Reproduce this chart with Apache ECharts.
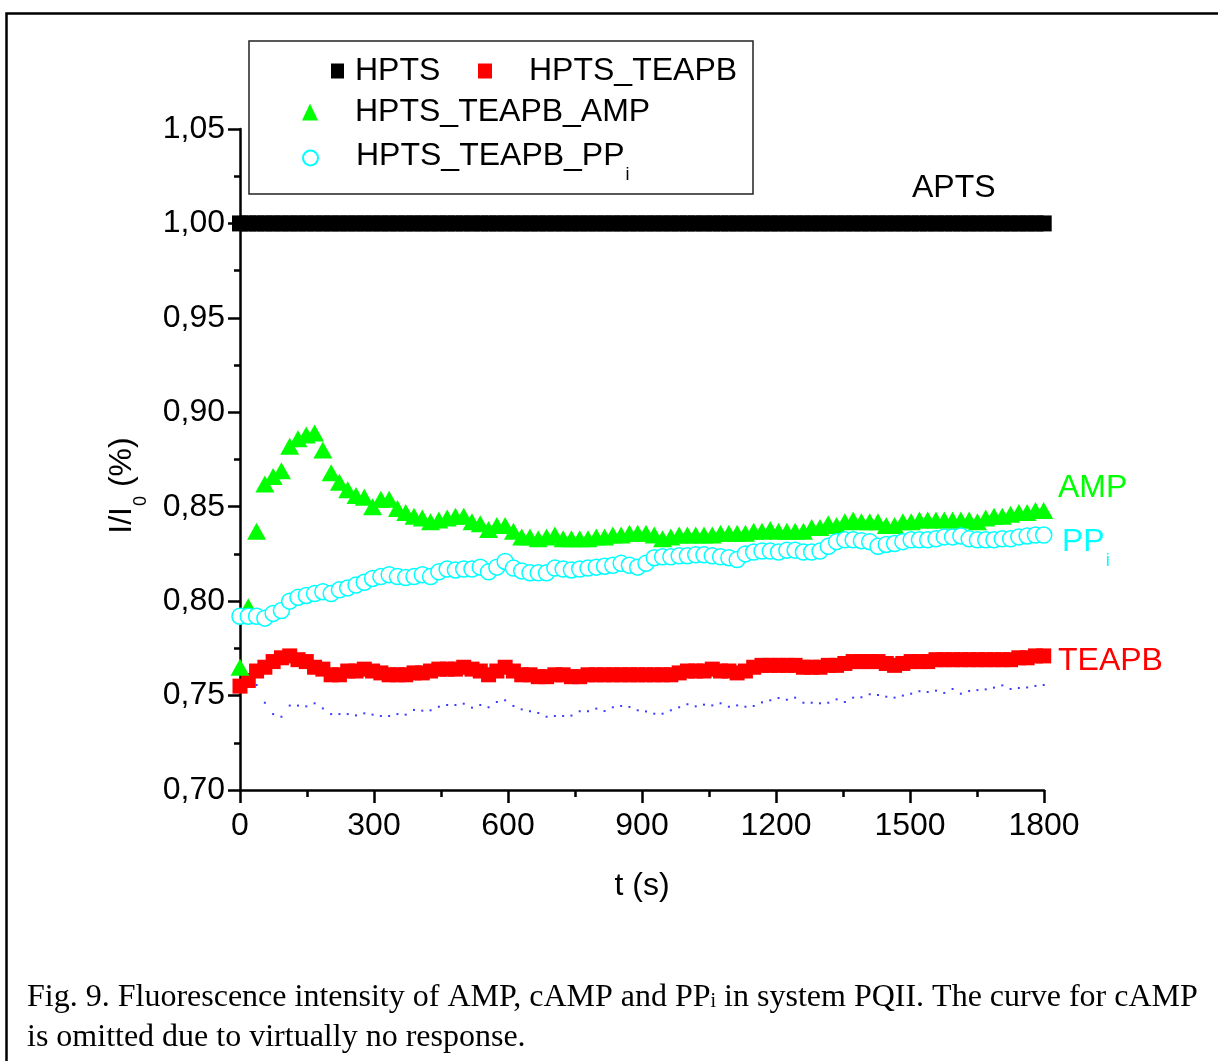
<!DOCTYPE html>
<html>
<head>
<meta charset="utf-8">
<title>Fluorescence intensity in system PQII</title>
<script src="https://cdn.jsdelivr.net/npm/echarts@6/dist/echarts.min.js"></script>
<style>
  html, body { margin: 0; padding: 0; background: #fff; }
  #chart { width: 1218px; height: 1061px; }
</style>
</head>
<body>
<div id="chart"></div>
<script>
// Sampling interval of the fluorescence readings (s)
const SAMPLE_INTERVAL = 18.55;

// I/I0 readings, one per sample
const hpts = [
  1.00, 1.00, 1.00, 1.00, 1.00, 1.00, 1.00, 1.00, 1.00, 1.00,
  1.00, 1.00, 1.00, 1.00, 1.00, 1.00, 1.00, 1.00, 1.00, 1.00,
  1.00, 1.00, 1.00, 1.00, 1.00, 1.00, 1.00, 1.00, 1.00, 1.00,
  1.00, 1.00, 1.00, 1.00, 1.00, 1.00, 1.00, 1.00, 1.00, 1.00,
  1.00, 1.00, 1.00, 1.00, 1.00, 1.00, 1.00, 1.00, 1.00, 1.00,
  1.00, 1.00, 1.00, 1.00, 1.00, 1.00, 1.00, 1.00, 1.00, 1.00,
  1.00, 1.00, 1.00, 1.00, 1.00, 1.00, 1.00, 1.00, 1.00, 1.00,
  1.00, 1.00, 1.00, 1.00, 1.00, 1.00, 1.00, 1.00, 1.00, 1.00,
  1.00, 1.00, 1.00, 1.00, 1.00, 1.00, 1.00, 1.00, 1.00, 1.00,
  1.00, 1.00, 1.00, 1.00, 1.00, 1.00, 1.00, 1.00
];

const hptsTeapb = [
  0.755, 0.758, 0.763, 0.765, 0.768, 0.770, 0.771, 0.769, 0.768, 0.765,
  0.764, 0.761, 0.761, 0.763, 0.763, 0.764, 0.763, 0.762, 0.761, 0.761,
  0.761, 0.762, 0.762, 0.763, 0.764, 0.764, 0.764, 0.765, 0.764, 0.763,
  0.761, 0.763, 0.765, 0.763, 0.761, 0.761, 0.760, 0.760, 0.761, 0.761,
  0.760, 0.760, 0.761, 0.761, 0.761, 0.761, 0.761, 0.761, 0.761, 0.761,
  0.761, 0.761, 0.761, 0.762, 0.763, 0.763, 0.763, 0.764, 0.763, 0.763,
  0.762, 0.763, 0.765, 0.766, 0.766, 0.766, 0.766, 0.766, 0.765, 0.765,
  0.765, 0.766, 0.766, 0.767, 0.768, 0.768, 0.768, 0.768, 0.767, 0.766,
  0.767, 0.768, 0.768, 0.768, 0.769, 0.769, 0.769, 0.769, 0.769, 0.769,
  0.769, 0.769, 0.769, 0.769, 0.770, 0.770, 0.771, 0.771
];

const hptsTeapbAmp = [
  0.765, 0.797, 0.837, 0.862, 0.866, 0.869, 0.882, 0.886, 0.888, 0.889,
  0.880, 0.868, 0.863, 0.859, 0.856, 0.855, 0.850, 0.854, 0.854, 0.849,
  0.847, 0.845, 0.844, 0.842, 0.843, 0.844, 0.845, 0.845, 0.842, 0.841,
  0.838, 0.840, 0.840, 0.837, 0.834, 0.834, 0.833, 0.834, 0.835, 0.833,
  0.833, 0.833, 0.833, 0.834, 0.834, 0.835, 0.835, 0.836, 0.836, 0.836,
  0.835, 0.833, 0.834, 0.835, 0.835, 0.835, 0.835, 0.835, 0.836, 0.836,
  0.836, 0.836, 0.837, 0.837, 0.838, 0.837, 0.837, 0.837, 0.837, 0.839,
  0.839, 0.841, 0.840, 0.842, 0.843, 0.842, 0.842, 0.842, 0.840, 0.840,
  0.842, 0.842, 0.843, 0.843, 0.843, 0.843, 0.843, 0.843, 0.843, 0.842,
  0.844, 0.845, 0.845, 0.846, 0.847, 0.847, 0.848, 0.848
];

const hptsTeapbPpi = [
  0.792, 0.792, 0.792, 0.791, 0.7935, 0.795, 0.800, 0.802, 0.803, 0.804,
  0.805, 0.804, 0.806, 0.807, 0.8085, 0.810, 0.812, 0.813, 0.814, 0.813,
  0.8125, 0.813, 0.814, 0.813, 0.8155, 0.817, 0.8165, 0.817, 0.817, 0.818,
  0.8155, 0.818, 0.821, 0.8175, 0.816, 0.815, 0.815, 0.815, 0.8175, 0.817,
  0.8165, 0.817, 0.8175, 0.818, 0.8185, 0.819, 0.820, 0.819, 0.818, 0.820,
  0.823, 0.8235, 0.8235, 0.824, 0.824, 0.8245, 0.8245, 0.824, 0.8235, 0.823,
  0.822, 0.825, 0.826, 0.8265, 0.8265, 0.826, 0.827, 0.827, 0.826, 0.826,
  0.8265, 0.829, 0.8315, 0.8325, 0.8325, 0.832, 0.8315, 0.829, 0.830, 0.8305,
  0.8315, 0.8325, 0.8325, 0.8325, 0.833, 0.834, 0.834, 0.8345, 0.833, 0.8325,
  0.8325, 0.8325, 0.833, 0.833, 0.834, 0.8345, 0.835, 0.835
];

// Unlabelled dotted trace below TEAPB
const dottedTrace = [
  0.757, 0.758, 0.7556, 0.7462, 0.7402, 0.7388, 0.7447, 0.7447, 0.7443, 0.7459,
  0.7432, 0.7402, 0.7402, 0.7402, 0.7395, 0.7406, 0.7399, 0.7392, 0.7392, 0.7402,
  0.7399, 0.7424, 0.7420, 0.7422, 0.7441, 0.7450, 0.7450, 0.7457, 0.7436, 0.7450,
  0.7438, 0.7466, 0.7475, 0.7445, 0.7427, 0.7417, 0.7408, 0.7388, 0.7392, 0.7392,
  0.7394, 0.7417, 0.7417, 0.7431, 0.7418, 0.7438, 0.7445, 0.7440, 0.7422, 0.7416,
  0.7404, 0.7404, 0.7422, 0.7438, 0.7454, 0.7443, 0.7452, 0.7448, 0.7459, 0.7441,
  0.7448, 0.7441, 0.7445, 0.7464, 0.7475, 0.7487, 0.7478, 0.7489, 0.7462, 0.7462,
  0.7459, 0.7462, 0.7480, 0.7466, 0.7489, 0.7491, 0.7507, 0.7503, 0.7494, 0.7489,
  0.7500, 0.7510, 0.7523, 0.7519, 0.7526, 0.7514, 0.7535, 0.7510, 0.7524, 0.7529,
  0.7533, 0.7542, 0.7554, 0.7535, 0.7540, 0.7543, 0.7551, 0.7556
];

const seriesNames = ['HPTS', 'HPTS_TEAPB', 'HPTS_TEAPB_AMP', 'HPTS_TEAPB_PP'];
const xTicks = [0, 300, 600, 900, 1200, 1500, 1800];
const yTicks = [0.70, 0.75, 0.80, 0.85, 0.90, 0.95, 1.00, 1.05];

const SANS = '"Liberation Sans", Arial, sans-serif';
const SERIF = '"Liberation Serif", "Times New Roman", serif';
const FS = 32;

function pairs(values) {
  return values.map((v, i) => [i * SAMPLE_INTERVAL, v]);
}

const chart = echarts.init(document.getElementById('chart'), null, { renderer: 'canvas' });

function legendAt(name, left, top, w, h, padLeft, formatter) {
  const l = {
    data: [name],
    left: left,
    top: top,
    orient: 'horizontal',
    padding: 0,
    itemWidth: w,
    itemHeight: h,
    selectedMode: false,
    textStyle: { fontFamily: SANS, fontSize: FS, color: '#000', padding: [0, 0, 0, padLeft] }
  };
  if (formatter) {
    l.formatter = formatter;
    l.textStyle.rich = {
      b: { fontFamily: SANS, fontSize: FS, color: '#000', verticalAlign: 'top', lineHeight: 36 },
      s: { fontFamily: SANS, fontSize: 18, color: '#000', verticalAlign: 'top', lineHeight: 20, padding: [26, 0, 0, 1] }
    };
  }
  return l;
}

const option = {
  animation: false,
  backgroundColor: '#fff',
  grid: { left: 240, right: 174, top: 129, bottom: 271, containLabel: false },
  legend: [
    legendAt('HPTS', 331, 55, 13, 15, 6),
    legendAt('HPTS_TEAPB', 478, 55, 14, 15, 32),
    legendAt('HPTS_TEAPB_AMP', 302, 96, 16, 17, 32),
    legendAt('HPTS_TEAPB_PP', 302, 140, 15, 15, 33, '{b|HPTS_TEAPB_PP}{s|i}')
  ],
  xAxis: {
    type: 'value',
    min: xTicks[0],
    max: xTicks[xTicks.length - 1],
    interval: 300,
    name: 't (s)',
    nameLocation: 'middle',
    nameGap: 80,
    nameTextStyle: { fontFamily: SANS, fontSize: FS, color: '#000' },
    axisLine: { show: true, onZero: false, lineStyle: { color: '#000', width: 2.5 } },
    axisTick: { show: true, inside: false, length: 13, lineStyle: { color: '#000', width: 2.5 } },
    minorTick: { show: true, splitNumber: 2, length: 7, lineStyle: { color: '#000', width: 2.5 } },
    splitLine: { show: false },
    axisLabel: { fontFamily: SANS, fontSize: FS, color: '#000', margin: 20, formatter: v => String(v) }
  },
  yAxis: {
    type: 'value',
    min: yTicks[0],
    max: yTicks[yTicks.length - 1],
    interval: 0.05,
    name: '{a|I/I}{s|0}{a| (%)}',
    nameLocation: 'middle',
    nameGap: 98,
    nameRotate: 90,
    nameTextStyle: {
      padding: [0, 52, 0, 0],
      rich: {
        a: { fontFamily: SANS, fontSize: FS, color: '#000', verticalAlign: 'top', lineHeight: 36 },
        s: { fontFamily: SANS, fontSize: 18, color: '#000', verticalAlign: 'top', lineHeight: 20, padding: [26, 0, 0, 1] }
      }
    },
    axisLine: { show: true, onZero: false, lineStyle: { color: '#000', width: 2.5 } },
    axisTick: { show: true, inside: false, length: 12, lineStyle: { color: '#000', width: 2.5 } },
    minorTick: { show: true, splitNumber: 2, length: 6, lineStyle: { color: '#000', width: 2.5 } },
    splitLine: { show: false },
    axisLabel: {
      fontFamily: SANS, fontSize: FS, color: '#000', margin: 15,
      formatter: v => v.toFixed(2).replace('.', ',')
    }
  },
  series: [
    {
      name: 'dotted',
      type: 'scatter',
      data: pairs(dottedTrace),
      symbol: 'rect',
      symbolSize: 2,
      itemStyle: { color: '#3a3aff', opacity: 1 },
      z: 1
    },
    {
      name: seriesNames[0],
      type: 'scatter',
      data: pairs(hpts),
      symbol: 'rect',
      symbolSize: 16,
      itemStyle: { color: '#000', opacity: 1 },
      z: 2
    },
    {
      name: seriesNames[1],
      type: 'scatter',
      data: pairs(hptsTeapb),
      symbol: 'rect',
      symbolSize: 15,
      itemStyle: { color: '#ff0000', opacity: 1 },
      z: 3
    },
    {
      name: seriesNames[2],
      type: 'scatter',
      data: pairs(hptsTeapbAmp),
      symbol: 'triangle',
      symbolSize: [19, 17],
      itemStyle: { color: '#00ff00', opacity: 1 },
      z: 4
    },
    {
      name: seriesNames[3],
      type: 'scatter',
      data: pairs(hptsTeapbPpi),
      symbol: 'circle',
      symbolSize: 16,
      itemStyle: { color: '#fff', borderColor: '#00ffff', borderWidth: 1.5, opacity: 1 },
      z: 5
    }
  ],
  graphic: [
    // outer figure frame
    {
      type: 'rect', left: 4, top: 11, z: 0, silent: true,
      shape: { x: 0, y: 0, width: 1240, height: 1090 },
      style: { fill: 'none', stroke: '#000', lineWidth: 2.5 }
    },
    // legend box
    {
      type: 'rect', z: 0, silent: true,
      shape: { x: 249, y: 41, width: 504, height: 153 },
      style: { fill: 'none', stroke: '#222', lineWidth: 1.5 }
    },
    // curve labels
    {
      type: 'text', x: 912, y: 188, silent: true,
      style: { text: 'APTS', fill: '#000', font: FS + 'px ' + SANS, verticalAlign: 'middle' }
    },
    {
      type: 'text', x: 1058, y: 488, silent: true,
      style: { text: 'AMP', fill: '#00ff00', font: FS + 'px ' + SANS, verticalAlign: 'middle' }
    },
    {
      type: 'text', x: 1062, y: 526, silent: true,
      style: {
        text: '{b|PP}{s|i}',
        verticalAlign: 'top',
        rich: {
          b: { fontFamily: SANS, fontSize: FS, fill: '#00ffff', verticalAlign: 'top', lineHeight: 36 },
          s: { fontFamily: SANS, fontSize: 18, fill: '#00ffff', verticalAlign: 'top', lineHeight: 20, padding: [26, 0, 0, 1] }
        }
      }
    },
    {
      type: 'text', x: 1058, y: 661, silent: true,
      style: { text: 'TEAPB', fill: '#ff0000', font: FS + 'px ' + SANS, verticalAlign: 'middle' }
    },
    // figure caption
    {
      type: 'text', x: 27, y: 982, silent: true,
      style: {
        text: '{t|Fig. 9. Fluorescence intensity of AMP, cAMP and PP}{u|i}{t| in system PQII. The curve for cAMP}\n{t|is omitted due to virtually no response.}',
        verticalAlign: 'top',
        rich: {
          t: { fontFamily: SERIF, fontSize: 32, fill: '#000', verticalAlign: 'top', lineHeight: 40 },
          u: { fontFamily: SERIF, fontSize: 20, fill: '#000', verticalAlign: 'top', lineHeight: 40, padding: [10, 0, 0, 0] }
        }
      }
    }
  ]
};

chart.setOption(option);
</script>
</body>
</html>
